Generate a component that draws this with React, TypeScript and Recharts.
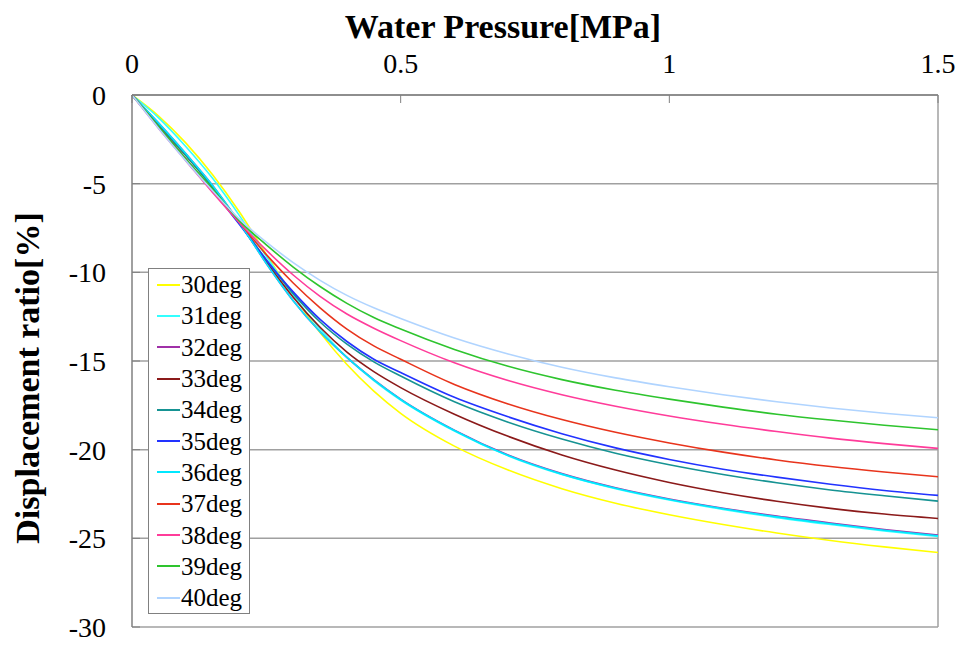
import { LineChart, Line, XAxis, YAxis, CartesianGrid, Legend, ReferenceLine } from 'recharts'

const FONT = "'Liberation Serif', 'Times New Roman', serif"

// water pressure [MPa]
const pressure = [0, 0.05, 0.1, 0.15, 0.2, 0.25, 0.3, 0.35, 0.4, 0.45, 0.5, 0.6, 0.7, 0.8, 0.9, 1.0, 1.1, 1.2, 1.3, 1.4, 1.5]

// displacement ratio [%] per angle
const deg30 = [0, -1.2, -2.7, -4.5, -6.6, -9.0, -11.3, -13.4, -15.2, -16.7, -17.95, -19.8, -21.15, -22.2, -23.02, -23.67, -24.22, -24.7, -25.12, -25.48, -25.8]
const deg31 = [0, -1.3, -2.9, -4.7, -6.8, -9.1, -11.3, -13.2, -14.8, -16.1, -17.2, -18.95, -20.35, -21.4, -22.2, -22.84, -23.37, -23.83, -24.22, -24.58, -24.89]
const deg32 = [0, -1.6, -3.3, -5.1, -7.2, -9.5, -11.6, -13.35, -14.8, -16.05, -17.15, -18.9, -20.3, -21.35, -22.15, -22.78, -23.3, -23.75, -24.14, -24.5, -24.82]
const deg33 = [0, -1.7, -3.4, -5.2, -7.2, -9.4, -11.4, -13.1, -14.5, -15.6, -16.5, -18.0, -19.25, -20.3, -21.15, -21.85, -22.43, -22.91, -23.31, -23.63, -23.88]
const deg34 = [0, -1.7, -3.4, -5.2, -7.2, -9.3, -11.2, -12.8, -14.05, -15.05, -15.85, -17.3, -18.45, -19.4, -20.2, -20.85, -21.4, -21.87, -22.27, -22.6, -22.9]
const deg35 = [0, -1.8, -3.6, -5.4, -7.3, -9.3, -11.1, -12.65, -13.9, -14.9, -15.65, -17.05, -18.15, -19.1, -19.9, -20.55, -21.1, -21.55, -21.95, -22.3, -22.58]
const deg36 = [0, -1.6, -3.3, -5.1, -7.2, -9.5, -11.6, -13.35, -14.8, -16.07, -17.17, -18.92, -20.33, -21.38, -22.18, -22.81, -23.33, -23.79, -24.18, -24.54, -24.86]
const deg37 = [0, -1.8, -3.6, -5.4, -7.2, -9.0, -10.6, -12.0, -13.2, -14.15, -14.9, -16.32, -17.42, -18.3, -19.02, -19.62, -20.14, -20.58, -20.95, -21.26, -21.53]
const deg38 = [0, -1.9, -3.7, -5.5, -7.2, -8.75, -10.15, -11.35, -12.35, -13.15, -13.85, -15.1, -16.1, -16.9, -17.55, -18.1, -18.57, -18.98, -19.35, -19.66, -19.93]
const deg39 = [0, -1.8, -3.6, -5.3, -7.1, -8.45, -9.7, -10.8, -11.75, -12.55, -13.2, -14.35, -15.3, -16.05, -16.65, -17.15, -17.6, -18.0, -18.33, -18.62, -18.88]
const deg40 = [0, -1.9, -3.7, -5.4, -7.0, -8.3, -9.45, -10.45, -11.3, -12.0, -12.6, -13.7, -14.6, -15.35, -15.95, -16.45, -16.9, -17.3, -17.65, -17.95, -18.2]

const seriesNames = ['30deg', '31deg', '32deg', '33deg', '34deg', '35deg', '36deg', '37deg', '38deg', '39deg', '40deg']
const seriesValues = [deg30, deg31, deg32, deg33, deg34, deg35, deg36, deg37, deg38, deg39, deg40]
const seriesColors = ['#ffff00', '#33ffff', '#a030a8', '#8b1a1a', '#169393', '#2233ff', '#00e8ff', '#e8341c', '#ff3c9a', '#2ec42e', '#b0d4ff']

const xTicks = [0, 0.5, 1, 1.5]
const yTicks = [0, -5, -10, -15, -20, -25, -30]

const data = pressure.map((p, i) => {
  const row: any = { p }
  seriesNames.forEach((name, k) => { row[name] = seriesValues[k][i] })
  return row
})

const renderLegend = (props: any) => (
  <div style={{ border: '1px solid #808080', background: '#fff', width: 100, fontFamily: FONT, fontSize: 25, color: '#000' }}>
    {props.payload.map((entry: any) => (
      <div key={entry.value} style={{ display: 'flex', alignItems: 'center', height: 31.3 }}>
        <svg width={32} height={4} style={{ flex: 'none' }}>
          <line x1={8} y1={2} x2={31} y2={2} stroke={entry.color} strokeWidth={2} />
        </svg>
        <span style={{ lineHeight: 1 }}>{entry.value}</span>
      </div>
    ))}
  </div>
)

const xTitle = () => (
  <text x={503} y={38} textAnchor="middle" fontFamily={FONT} fontSize={34} fontWeight="bold" fill="#000">
    Water Pressure[MPa]
  </text>
)

const yTitle = () => (
  <text x={0} y={0} transform="translate(39, 378) rotate(-90)" textAnchor="middle" fontFamily={FONT} fontSize={34} fontWeight="bold" fill="#000">
    Displacement ratio[%]
  </text>
)

export default function App() {
  return (
    <div style={{ position: 'absolute', left: 0, top: 0, background: '#fff' }}>
      <LineChart width={962} height={646} data={data} margin={{ top: 0, right: 24, bottom: 19, left: 0 }}>
        <CartesianGrid vertical={false} stroke="#a0a0a0" strokeWidth={1.5} />
        <XAxis
          dataKey="p"
          type="number"
          orientation="top"
          domain={[0, 1.5]}
          ticks={xTicks}
          height={95}
          tickSize={-8}
          tickMargin={30}
          axisLine={{ stroke: '#808080', strokeWidth: 1.5 }}
          tickLine={{ stroke: '#808080' }}
          tick={{ fill: '#000', fontSize: 28, fontFamily: FONT }}
          tickFormatter={(v) => String(v)}
          label={xTitle}
        />
        <YAxis
          type="number"
          domain={[-30, 0]}
          ticks={yTicks}
          width={132}
          tickSize={-8}
          tickMargin={34}
          axisLine={{ stroke: '#808080', strokeWidth: 1.5 }}
          tickLine={{ stroke: '#808080' }}
          tick={{ fill: '#000', fontSize: 28, fontFamily: FONT }}
          label={yTitle}
        />
        <ReferenceLine x={1.5} stroke="#a0a0a0" strokeWidth={1.5} />
        {seriesNames.map((name, k) => (
          <Line
            key={name}
            type="monotone"
            dataKey={name}
            stroke={seriesColors[k]}
            strokeWidth={1.6}
            dot={false}
            isAnimationActive={false}
          />
        ))}
        <Legend
          layout="vertical"
          align="center"
          verticalAlign="middle"
          content={renderLegend}
          wrapperStyle={{ left: 148, top: 268, width: 102 }}
        />
      </LineChart>
    </div>
  )
}
